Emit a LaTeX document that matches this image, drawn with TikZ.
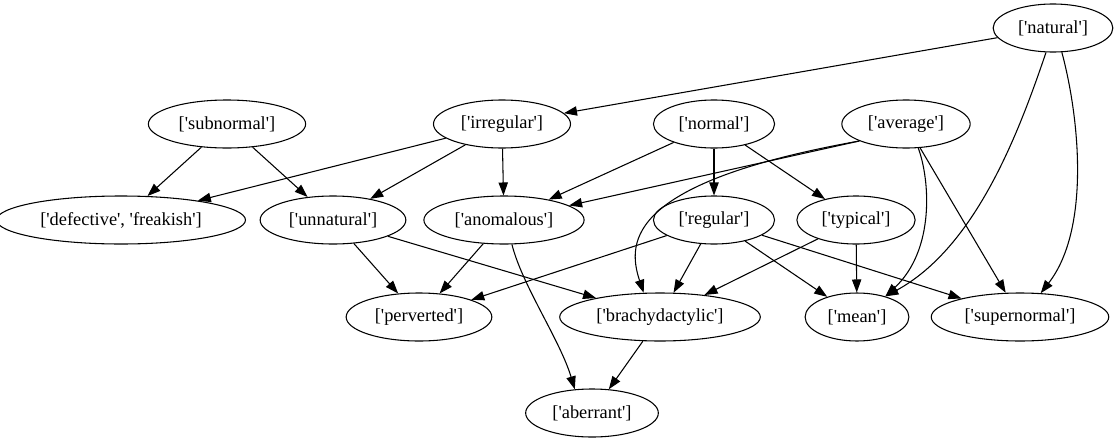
\documentclass[tikz,border=0pt]{standalone}
\usepackage{fontspec}
\setmainfont{Liberation Serif}[Ligatures=TeXOff]
\usetikzlibrary{arrows.meta,shapes.geometric}

\begin{document}
\begin{tikzpicture}[x=0.75pt, y=-0.75pt,
  term/.style={ellipse, draw, line width=0.8pt, inner xsep=5.5pt, inner ysep=2pt,
    minimum height=36pt, font=\fontsize{13.8}{16}\selectfont},
  edge/.style={line width=0.8pt, -{Triangle[length=9.75pt, width=7pt]}}]
  \useasboundingbox (0,0) rectangle (1117,443);
  % rank 0 and 1
  \node[term] (nat)   at (1053,28)  {['natural']};
  \node[term] (subn)  at (227,124)  {['subnormal']};
  \node[term] (irr)   at (502,124)  {['irregular']};
  \node[term] (norm)  at (714,124)  {['normal']};
  \node[term] (avg)   at (906,124)  {['average']};
  % rank 2
  \node[term] (def)   at (121,220)  {['defective', 'freakish']};
  \node[term] (unnat) at (333,220)  {['unnatural']};
  \node[term] (anom)  at (504,220)  {['anomalous']};
  \node[term] (reg)   at (714,220)  {['regular']};
  \node[term] (typ)   at (856,220)  {['typical']};
  % rank 3 and 4
  \node[term] (perv)  at (419,317)  {['perverted']};
  \node[term] (brachy) at (660,317) {['brachydactylic']};
  \node[term] (mean)  at (857,317)  {['mean']};
  \node[term] (supn)  at (1020,317) {['supernormal']};
  \node[term] (aberr) at (592,413)  {['aberrant']};
  % straight edges
  \foreach \a/\b in {nat/irr, subn/def, subn/unnat, irr/def, irr/unnat, irr/anom,
      norm/anom, norm/reg, norm/typ, avg/supn, unnat/perv, unnat/brachy,
      anom/perv, reg/perv, reg/brachy, reg/mean, reg/supn, typ/brachy,
      typ/mean, brachy/aberr}
    \draw[edge] (\a) -- (\b);
  \draw[edge] (avg.-160) -- (anom);
  % curved edges
  \draw[edge] (avg.-160) .. controls (630,182) and (626,240) .. (brachy.124);
  \draw[edge] (avg.-63) .. controls (930,180) and (935,250) .. (mean.36);
  \draw[edge] (nat.-106) .. controls (1019,132) and (976,247) .. (mean.36);
  \draw[edge] (nat.-70) .. controls (1080,120) and (1090,230) .. (supn.49);
  \draw[edge] (anom.-72) .. controls (522,285) and (560,340) .. (aberr.126);
\end{tikzpicture}
\end{document}
